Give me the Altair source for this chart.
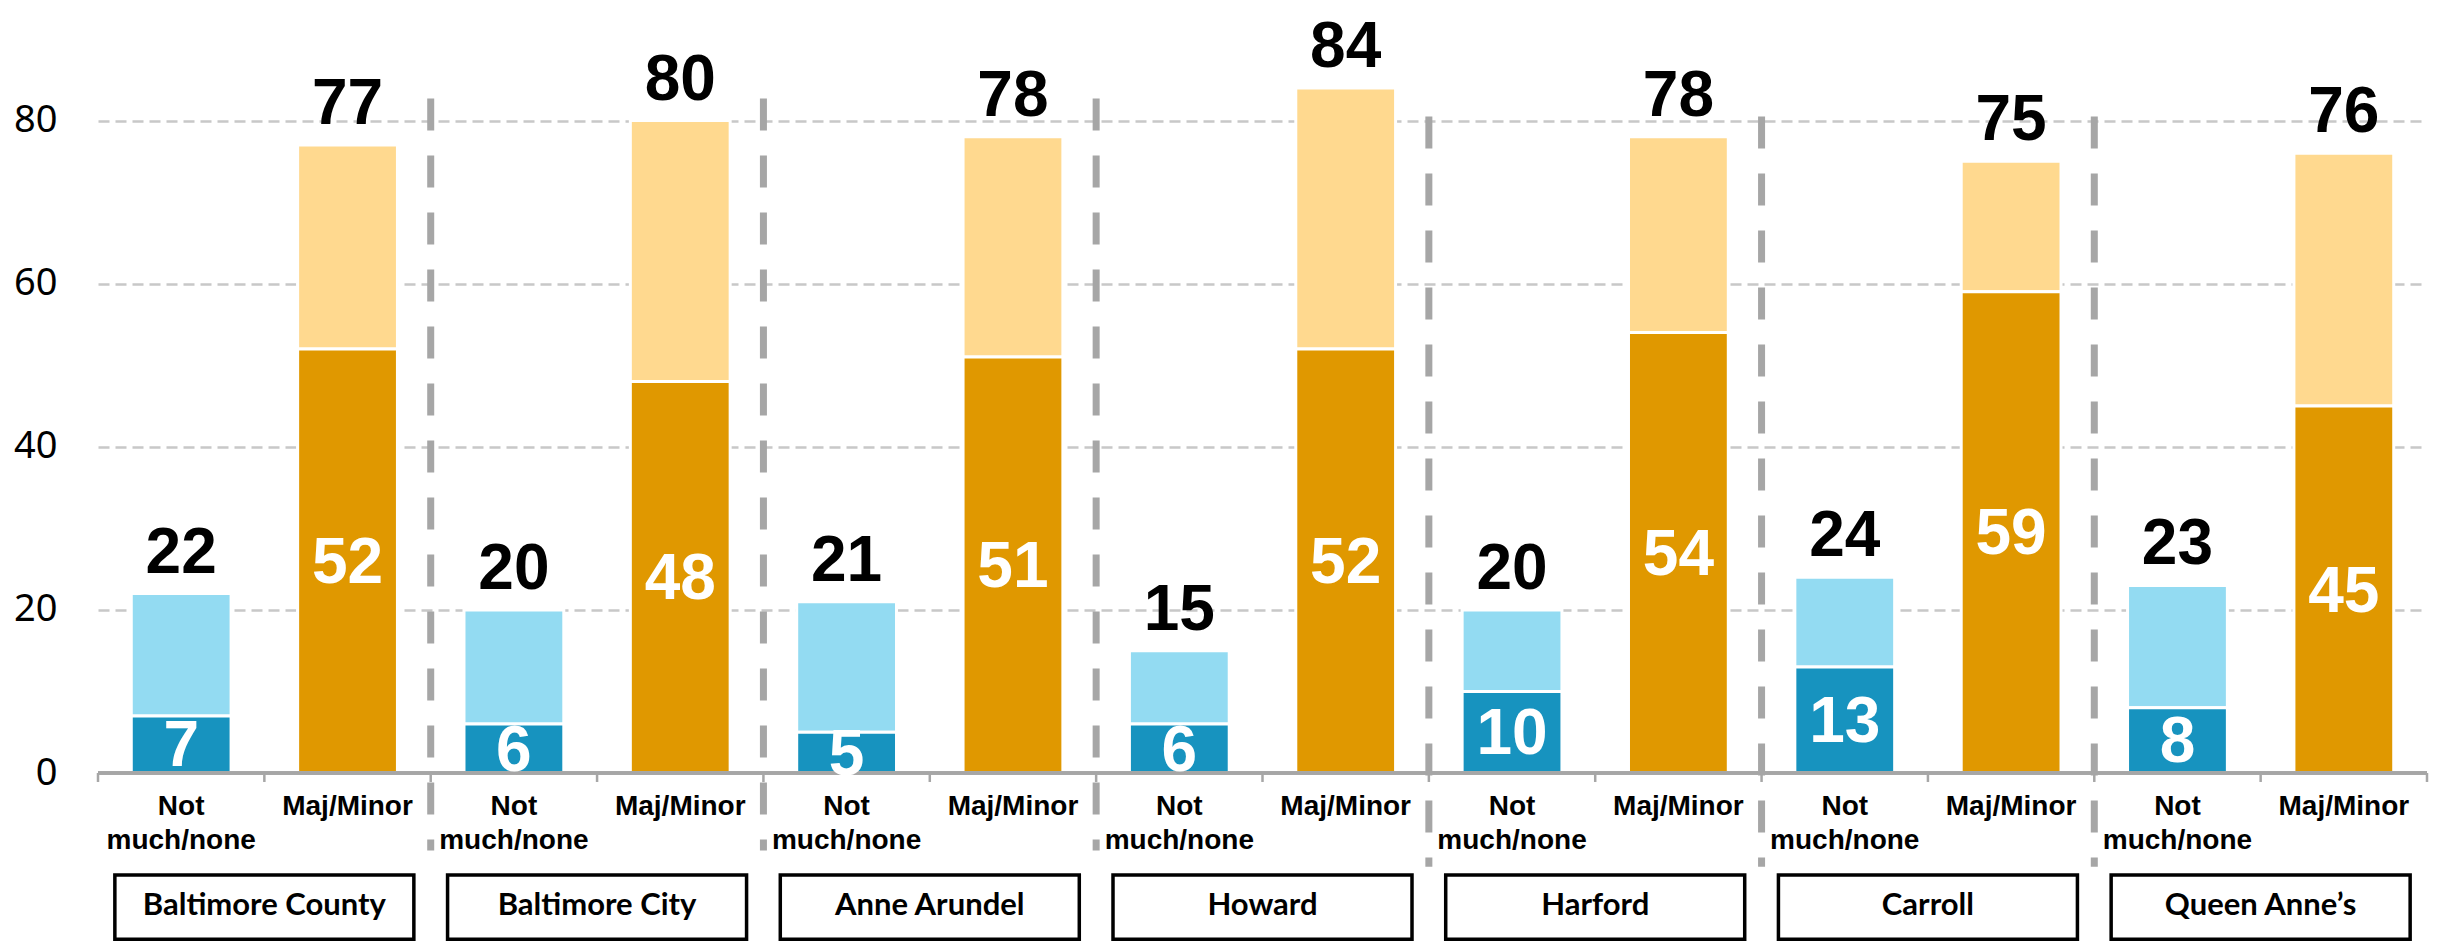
import altair as alt
import pandas as pd

counties = ["Baltimore County", "Baltimore City", "Anne Arundel", "Howard",
            "Harford", "Carroll", "Queen Anne\u2019s"]
categories = ["Not much/none", "Maj/Minor"]
cat_labels = ["Not\nmuch/none", "Maj/Minor"]
not_total = [22, 20, 21, 15, 20, 24, 23]
not_dark = [7, 6, 5, 6, 10, 13, 8]
maj_total = [77, 80, 78, 84, 78, 75, 76]
maj_dark = [52, 48, 51, 52, 54, 59, 45]
y_ticks = [0, 20, 40, 60, 80]

# vertical extents (y-data units) of separators, ticks, category labels, county boxes
sep_top = [82.7, 82.7, 82.7, 80.5, 80.5, 80.5]
sep_bottom = [-9.5, -9.5, -9.5, -11.5, -11.5, -11.5]
tick_bottom = -1.1
cat_label_y = -2.4
box_top, box_bottom, box_text = -12.5, -20.4, -16.3

seg_names = ["not_light", "not_dark", "maj_light", "maj_dark"]
seg_colors = ["#93DBF2", "#1793BF", "#FFD98F", "#E09800"]

keys, seg_rows, bar_rows = [], [], []
for i, c in enumerate(counties):
    for j, (tot, dk, pre) in enumerate([(not_total[i], not_dark[i], "not"),
                                        (maj_total[i], maj_dark[i], "maj")]):
        key = f"{c}|{categories[j]}"
        keys.append(key)
        seg_rows.append(dict(key=key, seg=f"{pre}_light", ytop=tot, ybot=dk))
        seg_rows.append(dict(key=key, seg=f"{pre}_dark", ytop=dk, ybot=0))
        bar_rows.append(dict(key=key, total=tot, dark=dk, mid=dk / 2,
                             lab=cat_labels[j], laby=cat_label_y, zero=0))

seg_df = pd.DataFrame(seg_rows)
bar_df = pd.DataFrame(bar_rows)
sep_df = pd.DataFrame(dict(key=[f"{c}|{categories[1]}" for c in counties[:-1]],
                           ytop=sep_top, ybot=sep_bottom))
box_df = pd.DataFrame(dict(key=[f"{c}|{categories[0]}" for c in counties],
                           county=counties, ytop=box_top, ybot=box_bottom, mid=box_text))
tick_df = pd.DataFrame(dict(key=keys, ytop=0, ybot=tick_bottom))
last_tick_df = pd.DataFrame(dict(key=[keys[-1]], ytop=[0], ybot=[tick_bottom]))

NUMFONT = "Liberation Sans"
GRAY = "#A6A6A6"

W, H = 2329, 734
N = len(keys)
P_IN, P_OUT = 0.4, 0.2
step = W / (N - P_IN + 2 * P_OUT)
half_gap = step * P_IN / 2

y_scale = alt.Scale(domain=[0, 90], nice=False, zero=False)
x_scale = alt.Scale(domain=keys, paddingInner=P_IN, paddingOuter=P_OUT)
y_axis = alt.Axis(values=y_ticks, title=None)


def X(**kw):
    return alt.X("key:N", sort=keys, scale=x_scale, axis=None, **kw)


def Y(field):
    return alt.Y(field, scale=y_scale, axis=y_axis)


bars = alt.Chart(seg_df).mark_bar(stroke="white", strokeWidth=3).encode(
    x=X(), y=Y("ytop:Q"), y2="ybot:Q",
    color=alt.Color("seg:N", scale=alt.Scale(domain=seg_names, range=seg_colors), legend=None),
)

baseline = alt.Chart(bar_df).mark_rule(color=GRAY, strokeWidth=2.5).encode(
    y=Y("zero:Q")
)

ticks = alt.Chart(tick_df).mark_rule(color=GRAY, strokeWidth=2.5, xOffset=-half_gap).encode(
    x=X(bandPosition=0), y=Y("ytop:Q"), y2="ybot:Q",
)
last_tick = alt.Chart(last_tick_df).mark_rule(color=GRAY, strokeWidth=2.5, xOffset=half_gap).encode(
    x=X(bandPosition=1), y=Y("ytop:Q"), y2="ybot:Q",
)

cat_text = alt.Chart(bar_df).mark_text(
    font=NUMFONT, fontWeight="bold", fontSize=28, color="black",
    baseline="top", lineBreak="\n", lineHeight=34,
).encode(x=X(), y=Y("laby:Q"), text="lab:N")

tot_text = alt.Chart(bar_df).mark_text(
    font=NUMFONT, fontWeight="bold", fontSize=64, color="black",
    baseline="alphabetic", dy=-21,
).encode(x=X(), y=Y("total:Q"), text="total:Q")

in_text = alt.Chart(bar_df).mark_text(
    font=NUMFONT, fontWeight="bold", fontSize=64, color="white",
    baseline="middle", dy=3,
).encode(x=X(), y=Y("mid:Q"), text="dark:Q")

seps = alt.Chart(sep_df).mark_rule(
    color=GRAY, strokeWidth=7, strokeDash=[32, 25], xOffset=half_gap
).encode(x=X(bandPosition=1), y=Y("ytop:Q"), y2="ybot:Q")

boxes = alt.Chart(box_df).mark_bar(
    fill="white", stroke="black", strokeWidth=3.5, width=299, xOffset=step / 2
).encode(x=X(), y=Y("ytop:Q"), y2="ybot:Q")

box_labels = alt.Chart(box_df).mark_text(
    font="Lato", fontWeight="bold", fontSize=31, color="black", baseline="middle",
    dx=step / 2,
).encode(x=X(), y=Y("mid:Q"), text="county:N")

chart = alt.layer(
    seps, boxes, box_labels, ticks, last_tick, bars, baseline, cat_text, tot_text, in_text
).properties(
    width=W, height=H, padding={"left": 5, "right": 5, "top": 7, "bottom": 0},
).configure_view(stroke=None).configure_axisY(
    domain=False, ticks=False, labelFont="Noto Sans", labelFontSize=38,
    labelColor="black", labelPadding=41, gridColor="#C8C8C8",
    gridDash=[11, 6], gridWidth=2.5,
)

chart.save("out.html", embed_options={"renderer": "svg", "actions": False})
